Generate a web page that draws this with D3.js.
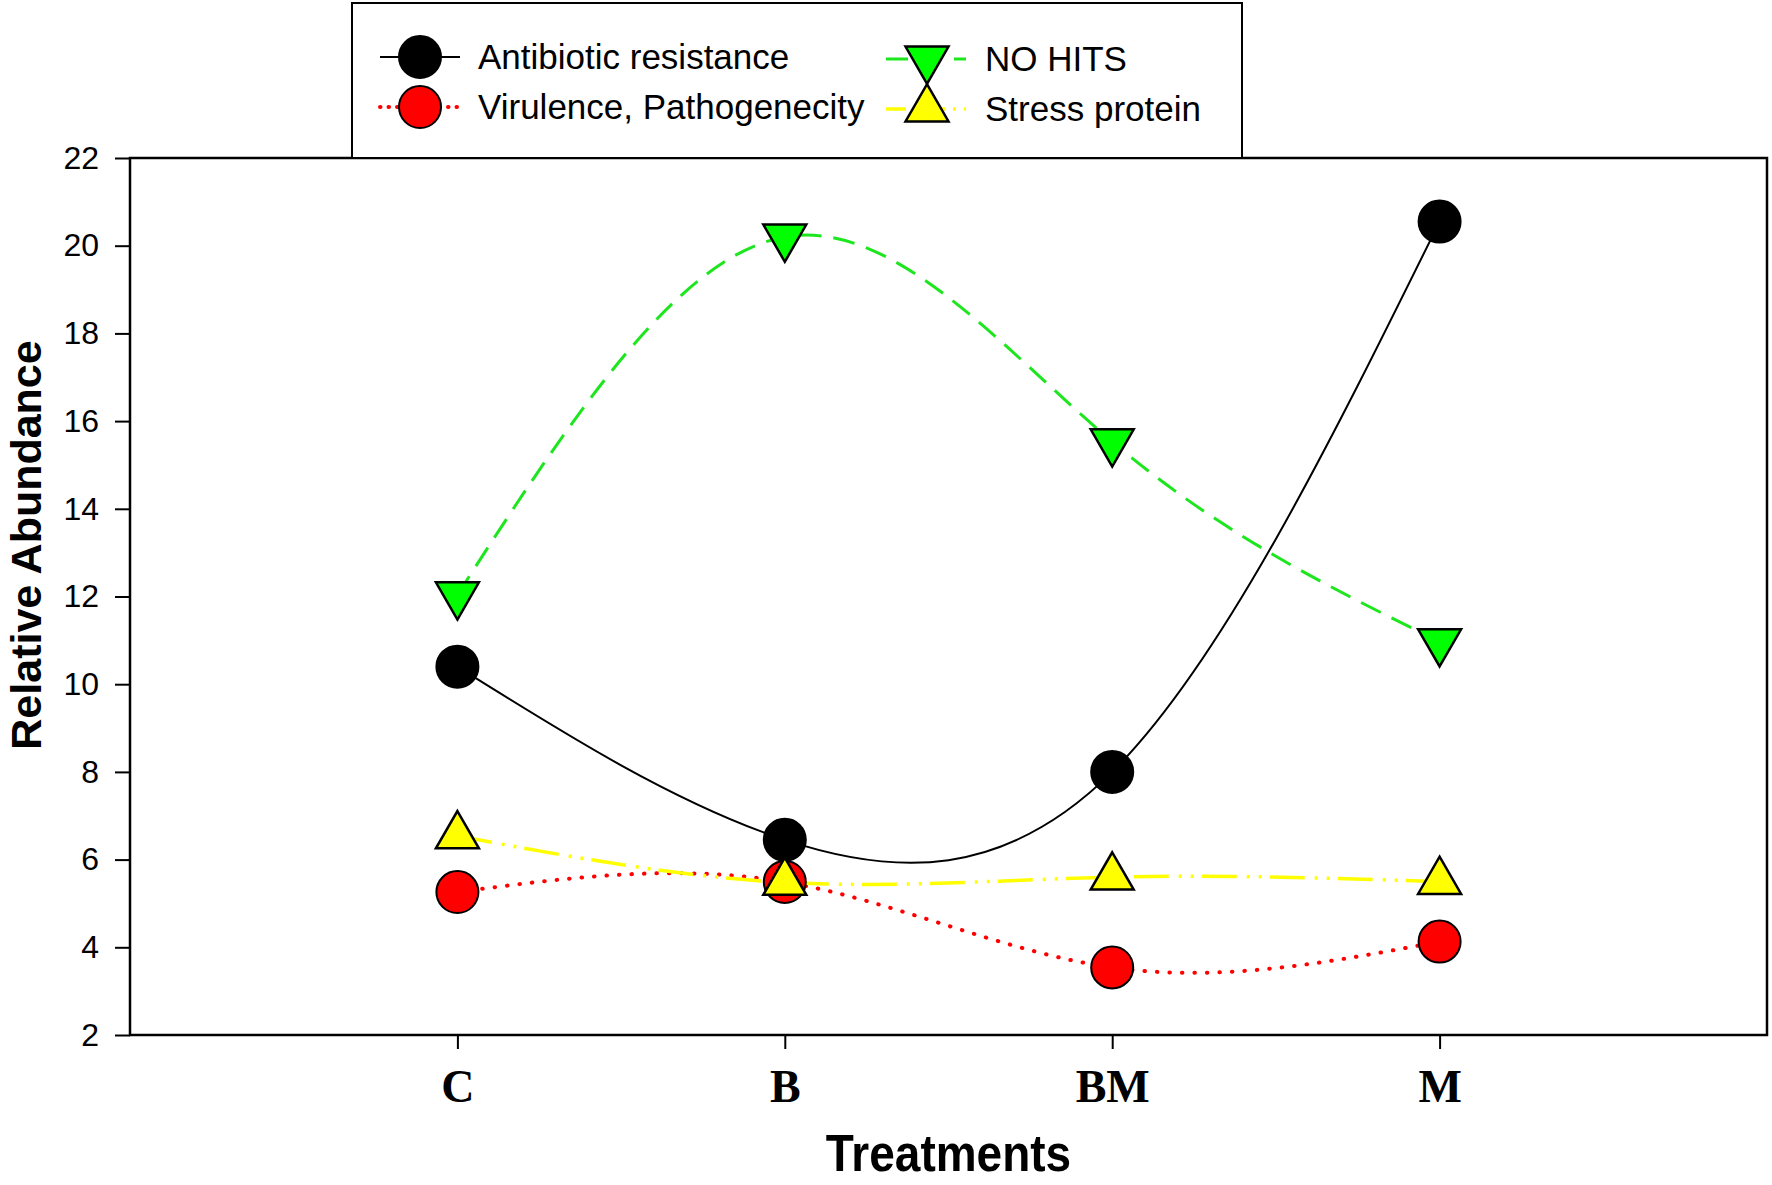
<!DOCTYPE html>
<html>
<head>
<meta charset="utf-8">
<script src="https://cdn.jsdelivr.net/npm/d3@7"></script>
<style>
  body { margin: 0; background: #fff; }
  svg { display: block; }
</style>
</head>
<body>
<svg id="chart" width="1772" height="1185"></svg>
<script>
// data
const categories = ["C", "B", "BM", "M"];
const antibioticResistance = [10.4, 6.45, 8.0, 20.55];
const virulencePathogenecity = [5.26, 5.49, 3.54, 4.13];
const noHits = [12.04, 20.2, 15.53, 10.97];
const stressProtein = [6.54, 5.48, 5.6, 5.5];
const yTickValues = [2, 4, 6, 8, 10, 12, 14, 16, 18, 20, 22];
const seriesNames = ["Antibiotic resistance", "Virulence, Pathogenecity", "NO HITS", "Stress protein"];

let chart = d3.select("#chart"),
    margin = {top: 158, right: 5, bottom: 150, left: 130},
    width = +chart.attr("width") - margin.left - margin.right,
    height = +chart.attr("height") - margin.top - margin.bottom;

let x = d3.scalePoint()
    .domain(categories)
    .range([margin.left, margin.left + width])
    .padding(1);

let y = d3.scaleLinear()
    .domain([2, 22])
    .range([margin.top + height, margin.top]);

const sansFont = "Arial, 'Liberation Sans', sans-serif";
const serifFont = "'Times New Roman', 'Liberation Serif', serif";

// triangle symbol path, centred on its centroid
function triangle(side, down) {
    let h = side * Math.sqrt(3) / 2;
    let s = down ? -1 : 1;
    return "M0," + (-s * 2 * h / 3) +
        "L" + (side / 2) + "," + (s * h / 3) +
        "L" + (-side / 2) + "," + (s * h / 3) + "Z";
}

let series = [
    {name: seriesNames[0], values: antibioticResistance, line: "#000", width: 2, dash: null, legendDash: null,
        cap: "butt", symbol: "circle", fill: "#000"},
    {name: seriesNames[1], values: virulencePathogenecity, line: "#ff0000", width: 4, dash: "0.5,12", legendDash: "0.5,8",
        cap: "round", symbol: "circle", fill: "#ff0000"},
    {name: seriesNames[2], values: noHits, line: "#1ee61e", width: 3, dash: "22,12", legendDash: "22,12",
        cap: "butt", symbol: "down", fill: "#00ff00"},
    {name: seriesNames[3], values: stressProtein, line: "#ffff00", width: 3.5, dash: "35,10,3,9,3,8", legendDash: "20,8,3,8",
        cap: "butt", symbol: "up", fill: "#ffff00"}
];

let line = d3.line()
    .x(function(d, i) { return x(categories[i]); })
    .y(function(d) { return y(d); })
    .curve(d3.curveNatural);

function drawSymbol(g, s, cx, cy) {
    if (s.symbol === "circle") {
        g.append("circle")
            .attr("cx", cx).attr("cy", cy).attr("r", 21)
            .attr("fill", s.fill)
            .attr("stroke", "#000")
            .attr("stroke-width", 2);
    } else {
        g.append("path")
            .attr("transform", "translate(" + cx + "," + cy + ")")
            .attr("d", triangle(43, s.symbol === "down"))
            .attr("fill", s.fill)
            .attr("stroke", "#000")
            .attr("stroke-width", 2.5)
            .attr("stroke-linejoin", "miter");
    }
}

// plot frame
chart.append("rect")
    .attr("x", margin.left)
    .attr("y", margin.top)
    .attr("width", width)
    .attr("height", height)
    .attr("fill", "none")
    .attr("stroke", "#000")
    .attr("stroke-width", 2.5);

// y axis
let yAxis = chart.append("g")
    .attr("transform", "translate(" + margin.left + ",0)")
    .call(d3.axisLeft(y).tickValues(yTickValues).tickSize(15).tickPadding(16));
yAxis.select(".domain").remove();
yAxis.selectAll(".tick line").attr("stroke-width", 2);
yAxis.selectAll(".tick text")
    .attr("font-family", sansFont)
    .attr("font-size", 32)
    .attr("fill", "#000");

// x axis
let xAxis = chart.append("g")
    .attr("transform", "translate(0," + (margin.top + height) + ")")
    .call(d3.axisBottom(x).tickSize(14).tickPadding(0));
xAxis.select(".domain").remove();
xAxis.selectAll(".tick line").attr("stroke-width", 2);
xAxis.selectAll(".tick text")
    .attr("font-family", serifFont)
    .attr("font-weight", "bold")
    .attr("font-size", 46)
    .attr("fill", "#000")
    .attr("dy", null)
    .attr("y", 67);

// axis titles
chart.append("text")
    .attr("transform", "translate(" + (margin.left + width / 2) + ",1171) scale(1,1.12)")
    .attr("text-anchor", "middle")
    .attr("font-family", sansFont)
    .attr("font-weight", "bold")
    .attr("font-size", 46)
    .text("Treatments");

chart.append("text")
    .attr("transform", "translate(41,545) rotate(-90)")
    .attr("text-anchor", "middle")
    .attr("font-family", sansFont)
    .attr("font-weight", "bold")
    .attr("font-size", 43)
    .text("Relative Abundance");

// curves
let plot = chart.append("g");
series.forEach(function(s) {
    plot.append("path")
        .datum(s.values)
        .attr("fill", "none")
        .attr("stroke", s.line)
        .attr("stroke-width", s.width)
        .attr("stroke-dasharray", s.dash)
        .attr("stroke-linecap", s.cap)
        .attr("d", line);
});

// symbols
series.forEach(function(s) {
    s.values.forEach(function(v, i) {
        drawSymbol(plot, s, x(categories[i]), y(v));
    });
});

// legend
let legend = chart.append("g");
legend.append("rect")
    .attr("x", 352)
    .attr("y", 3)
    .attr("width", 890)
    .attr("height", 155)
    .attr("fill", "#fff")
    .attr("stroke", "#000")
    .attr("stroke-width", 2);

let legendPos = [
    {lx: 380, sx: 420, tx: 478, cy: 57},
    {lx: 380, sx: 420, tx: 478, cy: 107},
    {lx: 886, sx: 927, tx: 985, cy: 59},
    {lx: 886, sx: 927, tx: 985, cy: 109}
];

series.forEach(function(s, i) {
    let p = legendPos[i];
    legend.append("line")
        .attr("x1", p.lx).attr("x2", p.lx + 80)
        .attr("y1", p.cy).attr("y2", p.cy)
        .attr("stroke", s.line)
        .attr("stroke-width", s.width)
        .attr("stroke-dasharray", s.legendDash)
        .attr("stroke-linecap", s.cap);
    drawSymbol(legend, s, p.sx, p.cy);
    legend.append("text")
        .attr("x", p.tx)
        .attr("y", p.cy + 12)
        .attr("font-family", sansFont)
        .attr("font-size", 35)
        .text(s.name);
});
</script>
</body>
</html>
